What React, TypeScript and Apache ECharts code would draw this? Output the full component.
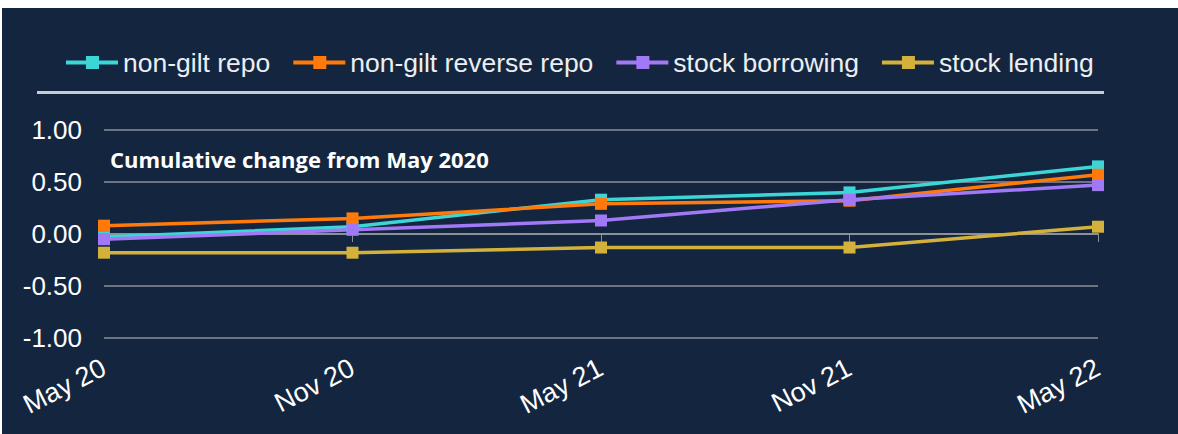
import React, { useEffect, useRef } from "react";
import * as echarts from "echarts";

const categories = ["May 20", "Nov 20", "May 21", "Nov 21", "May 22"];
const nonGiltRepo = [-0.03, 0.07, 0.33, 0.4, 0.65];
const nonGiltReverseRepo = [0.08, 0.15, 0.29, 0.32, 0.57];
const stockBorrowing = [-0.05, 0.04, 0.13, 0.33, 0.47];
const stockLending = [-0.18, -0.18, -0.13, -0.13, 0.07];
const yTicks = [-1, -0.5, 0, 0.5, 1];

const seriesDefs = [
  { name: "non-gilt repo", data: nonGiltRepo, color: "#3dd6d6" },
  { name: "non-gilt reverse repo", data: nonGiltReverseRepo, color: "#ff7a0a" },
  { name: "stock borrowing", data: stockBorrowing, color: "#a178f6" },
  { name: "stock lending", data: stockLending, color: "#d4b13a" },
];

export default function App() {
  const ref = useRef<HTMLDivElement>(null);
  useEffect(() => {
    const chart = echarts.init(ref.current!, null, { renderer: "svg" });
    const font = "'Liberation Sans', Arial, sans-serif";
    chart.setOption({
      animation: false,
      backgroundColor: "#14263f",
      legend: {
        top: 36,
        left: 59,
        itemGap: 23,
        itemWidth: 52,
        itemHeight: 13,
        icon: "path://M0,4.5 L20,4.5 L20,0 L33,0 L33,4.5 L52,4.5 L52,8.5 L33,8.5 L33,13 L20,13 L20,8.5 L0,8.5 Z",
        textStyle: { color: "#eceef2", fontSize: 26.5, fontFamily: font, padding: [0, 0, 0, 0] },
        data: seriesDefs.map((s) => s.name),
      },
      graphic: [
        {
          type: "rect",
          shape: { x: 35, y: 83, width: 1067, height: 3 },
          style: { fill: "#c9cdd3" },
        },
        {
          type: "text",
          x: 108,
          y: 140,
          style: {
            text: "Cumulative change from May 2020",
            fill: "#ffffff",
            font: "bold 22px 'Open Sans', Calibri, sans-serif",
          },
        },
      ],
      grid: { left: 102, right: 80, top: 122, bottom: 96 },
      xAxis: {
        type: "category",
        data: categories,
        boundaryGap: false,
        axisLine: { lineStyle: { color: "#8c9097", width: 2 } },
        axisTick: { show: true, length: 8, lineStyle: { color: "#8c9097", width: 1 } },
        axisLabel: {
          rotate: 27,
          color: "#ffffff",
          fontSize: 27,
          fontFamily: font,
          margin: 28,
        },
      },
      yAxis: {
        type: "value",
        min: -1,
        max: 1,
        interval: 0.5,
        axisLine: { show: false },
        axisTick: { show: false },
        splitLine: { lineStyle: { color: "#8c9097", width: 1.5 } },
        axisLabel: {
          color: "#ffffff",
          fontSize: 26,
          fontFamily: font,
          margin: 22,
          formatter: (v: number) => (yTicks.includes(v) ? v.toFixed(2) : ""),
        },
      },
      series: seriesDefs.map((s) => ({
        name: s.name,
        type: "line",
        data: s.data,
        symbol: "rect",
        symbolSize: 12,
        lineStyle: { color: s.color, width: 3.5 },
        itemStyle: { color: s.color },
      })),
    });
    return () => chart.dispose();
  }, []);
  return (
    <div style={{ position: "absolute", left: 0, top: 0, width: 1178, height: 434, background: "#fff" }}>
      <div ref={ref} style={{ position: "absolute", left: 2, top: 8, width: 1176, height: 426 }} />
    </div>
  );
}
